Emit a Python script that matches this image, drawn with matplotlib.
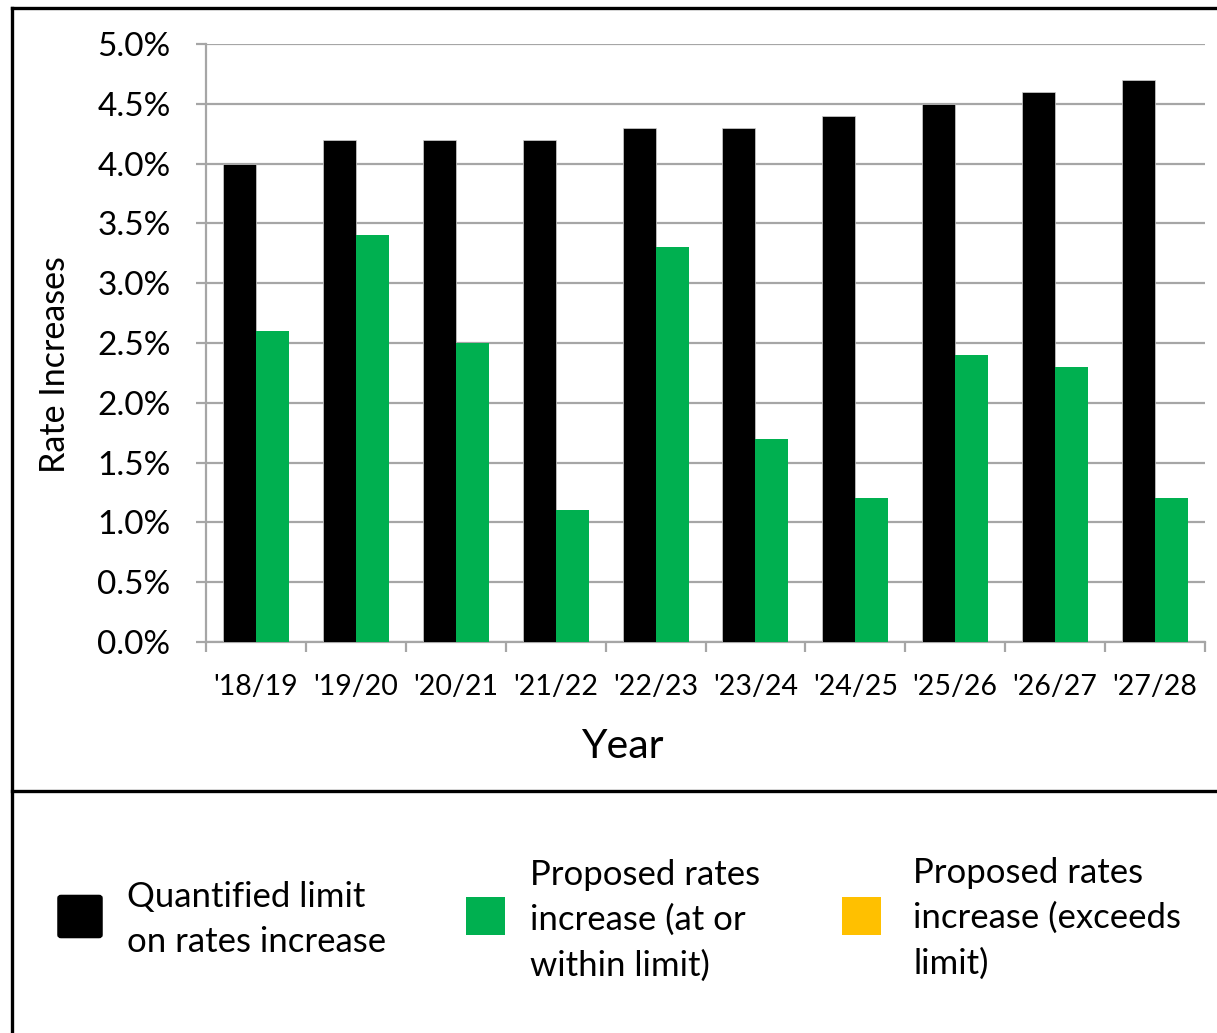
import matplotlib
matplotlib.use("Agg")
import matplotlib.pyplot as plt
import numpy as np
from matplotlib.lines import Line2D
from matplotlib.patches import Rectangle, FancyBboxPatch
from matplotlib.ticker import FuncFormatter, MultipleLocator

plt.rcParams['font.family'] = ['Lato', 'DejaVu Sans']

years = ["'18/19", "'19/20", "'20/21", "'21/22", "'22/23",
         "'23/24", "'24/25", "'25/26", "'26/27", "'27/28"]
limit = [4.0, 4.2, 4.2, 4.2, 4.3, 4.3, 4.4, 4.5, 4.6, 4.7]
proposed = [2.6, 3.4, 2.5, 1.1, 3.3, 1.7, 1.2, 2.4, 2.3, 1.2]

legend_labels = ["Quantified limit\non rates increase",
                 "Proposed rates\nincrease (at or\nwithin limit)",
                 "Proposed rates\nincrease (exceeds\nlimit)"]

BLACK = "#000000"
GREEN = "#00B050"
AMBER = "#FFC000"
GRID = "#a6a6a6"

W, H = 1217, 1033
fig = plt.figure(figsize=(W / 100, H / 100), dpi=100)

def fx(px):
    return px / W

def fy(py):
    return 1 - py / H

ax = fig.add_axes([fx(206), fy(642), fx(1205) - fx(206), fy(44) - fy(642)])

x = np.arange(len(years))
bw = 0.33
ax.bar(x - bw / 2, limit, width=bw, color=BLACK, edgecolor="#d0d0d0", linewidth=0.5, zorder=3)
ax.bar(x + bw / 2, proposed, width=bw, color=GREEN, zorder=3)

ax.set_xlim(-0.5, len(years) - 0.5)
ax.set_ylim(0, 5.0)
ax.yaxis.set_major_locator(MultipleLocator(0.5))
ax.yaxis.set_major_formatter(FuncFormatter(lambda v, p: "%.1f%%" % v))
ax.grid(axis="y", color=GRID, linewidth=1.6, zorder=0)

ax.set_xticks(x)
ax.set_xticklabels(years)
ax.set_xticks(np.arange(-0.5, len(years)), minor=True)
ax.tick_params(axis="x", which="major", length=0, pad=23, labelsize=20.5)
ax.tick_params(axis="x", which="minor", length=7.5, width=1.6, color=GRID, direction="out")
ax.tick_params(axis="y", length=7.5, width=1.6, color=GRID, pad=18, labelsize=24)

for s in ["top", "right"]:
    ax.spines[s].set_visible(False)
for s in ["left", "bottom"]:
    ax.spines[s].set_color(GRID)
    ax.spines[s].set_linewidth(1.6)

fig.text(fx(55), fy(365), "Rate Increases", rotation=90, ha="center", va="center", fontsize=24.5)
fig.text(fx(622), fy(747), "Year", ha="center", va="center", fontsize=29.5)

# frame lines around chart and legend panel
lw = 2.4
fig.add_artist(Line2D([fx(12), fx(12)], [fy(8), 0], color="black", linewidth=lw))
fig.add_artist(Line2D([fx(12), 1], [fy(8), fy(8)], color="black", linewidth=lw))
fig.add_artist(Line2D([fx(12), 1], [fy(791), fy(791)], color="black", linewidth=lw))

# legend
swatches = [(58, 895, 44, 43, BLACK, True), (466, 897, 39, 38, GREEN, False),
            (842, 897, 39, 38, AMBER, False)]
text_pos = [(127, 919), (530, 920), (913, 918)]
for (sx, sy, sw, sh, c, rounded), (tx, ty), lab in zip(swatches, text_pos, legend_labels):
    if rounded:
        patch = FancyBboxPatch((fx(sx + 3), fy(sy + sh - 3)), fx(sw - 6), fy(0) - fy(sh - 6),
                               boxstyle="round,pad=0.0025", facecolor=c, edgecolor=c,
                               transform=fig.transFigure)
    else:
        patch = Rectangle((fx(sx), fy(sy + sh)), fx(sw), fy(0) - fy(sh),
                          facecolor=c, edgecolor="none", transform=fig.transFigure)
    fig.add_artist(patch)
    fig.text(fx(tx), fy(ty), lab, ha="left", va="center", fontsize=25, linespacing=1.5)

fig.savefig("out.png", dpi=100)
